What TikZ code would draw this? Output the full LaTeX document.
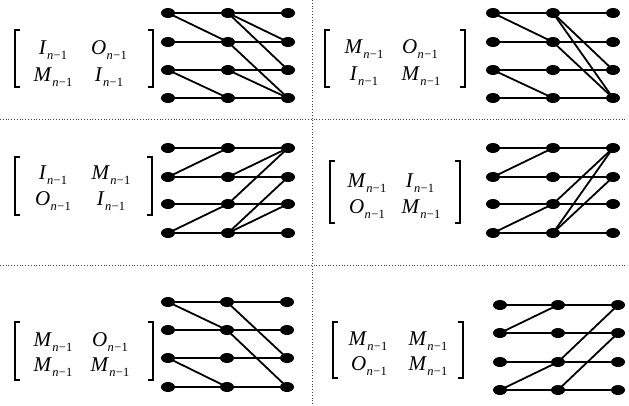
\documentclass[tikz,border=0pt]{standalone}
\usepackage{fontspec}
\setmainfont{Liberation Serif}
\usetikzlibrary{shapes.geometric}
\tikzset{
  dot/.style={ellipse,fill=black,draw=none,minimum width=14pt,minimum height=10pt,inner sep=0pt},
  edge/.style={line width=1.8pt,line cap=round},
  brk/.style={line width=1.2pt},
  divider/.style={dotted,line width=0.8pt,black!75},
  ent/.style={inner sep=0pt,font=\fontsize{21}{21}\selectfont}
}
\newcommand{\ent}[1]{\textit{#1}\kern0.3pt\raisebox{-0.5ex}{\fontsize{12.5}{12.5}\selectfont\textit{n}\kern0.3pt−\kern0.2pt1}}
\newcommand{\mkgrid}[8]{%
  \foreach \c/\xx in {1/#2,2/#3,3/#4}{
    \foreach \r/\yy in {1/#5,2/#6,3/#7,4/#8}{
      \node[dot] (#1-\c-\r) at (\xx,\yy) {};
    }}
  \foreach \r in {1,2,3,4}{\draw[edge] (#1-1-\r.center) -- (#1-2-\r.center) -- (#1-3-\r.center);}
}
\newcommand{\mkbrk}[4]{% xl xr yt yb
  \draw[brk] (#1+5,#3) -- (#1,#3) -- (#1,#4) -- (#1+5,#4);
  \draw[brk] (#2-5,#3) -- (#2,#3) -- (#2,#4) -- (#2-5,#4);
}
\begin{document}
\begin{tikzpicture}[x=1pt,y=-1pt]
\useasboundingbox (0,0) rectangle (629,405);
% dividers
\draw[divider] (0,119) -- (625,119);
\draw[divider] (0,265) -- (625,265);
\draw[divider] (312,0) -- (312,405);

% Panel 1
\mkgrid{A}{168}{228}{288}{13}{42}{70}{98}
\foreach \a/\b in {1-1/2-2, 2-1/3-2, 2-1/3-3, 2-2/3-4, 1-3/2-4, 2-3/3-4}
  \draw[edge] (A-\a.center) -- (A-\b.center);
\mkbrk{15}{153}{30}{87}
\node[ent] (A11) at (53,50) {\ent{I}};
\node[ent] (A12) at (109,50) {\ent{O}};
\node[ent] (A21) at (53,77) {\ent{M}};
\node[ent] (A22) at (109,77) {\ent{I}};

% Panel 2
\mkgrid{B}{493}{553}{613}{13}{42}{70}{98}
\foreach \a/\b in {1-1/2-2, 2-1/3-3, 2-1/3-4, 2-2/3-4, 1-3/2-4}
  \draw[edge] (B-\a.center) -- (B-\b.center);
\mkbrk{325}{465}{30}{87}
\node[ent] (B11) at (364,49) {\ent{M}};
\node[ent] (B12) at (420,49) {\ent{O}};
\node[ent] (B21) at (364,76) {\ent{I}};
\node[ent] (B22) at (421,76) {\ent{M}};

% Panel 3
\mkgrid{C}{168}{228}{288}{148}{177}{204}{233}
\foreach \a/\b in {1-2/2-1, 2-2/3-1, 2-3/3-1, 1-4/2-3, 2-4/3-2, 2-4/3-3}
  \draw[edge] (C-\a.center) -- (C-\b.center);
\mkbrk{15}{152}{157}{215}
\node[ent] (C11) at (53,175) {\ent{I}};
\node[ent] (C12) at (111,175) {\ent{M}};
\node[ent] (C21) at (53,201) {\ent{O}};
\node[ent] (C22) at (111,201) {\ent{I}};

% Panel 4
\mkgrid{D}{493}{553}{613}{148}{177}{204}{233}
\foreach \a/\b in {1-2/2-1, 1-4/2-3, 2-3/3-1, 2-4/3-1, 2-4/3-2}
  \draw[edge] (D-\a.center) -- (D-\b.center);
\mkbrk{330}{460}{161}{223}
\node[ent] (D11) at (367,183) {\ent{M}};
\node[ent] (D12) at (420,183) {\ent{I}};
\node[ent] (D21) at (367,209) {\ent{O}};
\node[ent] (D22) at (421,209) {\ent{M}};

% Panel 5
\mkgrid{E}{168}{227}{287}{302}{330}{358}{387}
\foreach \a/\b in {1-1/2-2, 2-1/3-3, 2-2/3-4, 1-3/2-4}
  \draw[edge] (E-\a.center) -- (E-\b.center);
\mkbrk{15}{153}{322}{380}
\node[ent] (E11) at (53,342) {\ent{M}};
\node[ent] (E12) at (110,342) {\ent{O}};
\node[ent] (E21) at (53,367) {\ent{M}};
\node[ent] (E22) at (110,367) {\ent{M}};

% Panel 6
\mkgrid{F}{500}{558}{618}{305}{333}{362}{390}
\foreach \a/\b in {1-2/2-1, 2-3/3-1, 1-4/2-3, 2-4/3-2}
  \draw[edge] (F-\a.center) -- (F-\b.center);
\mkbrk{333}{463}{322}{378}
\node[ent] (F11) at (368,341) {\ent{M}};
\node[ent] (F12) at (428,341) {\ent{M}};
\node[ent] (F21) at (369,366) {\ent{O}};
\node[ent] (F22) at (428,366) {\ent{M}};
\end{tikzpicture}
\end{document}
